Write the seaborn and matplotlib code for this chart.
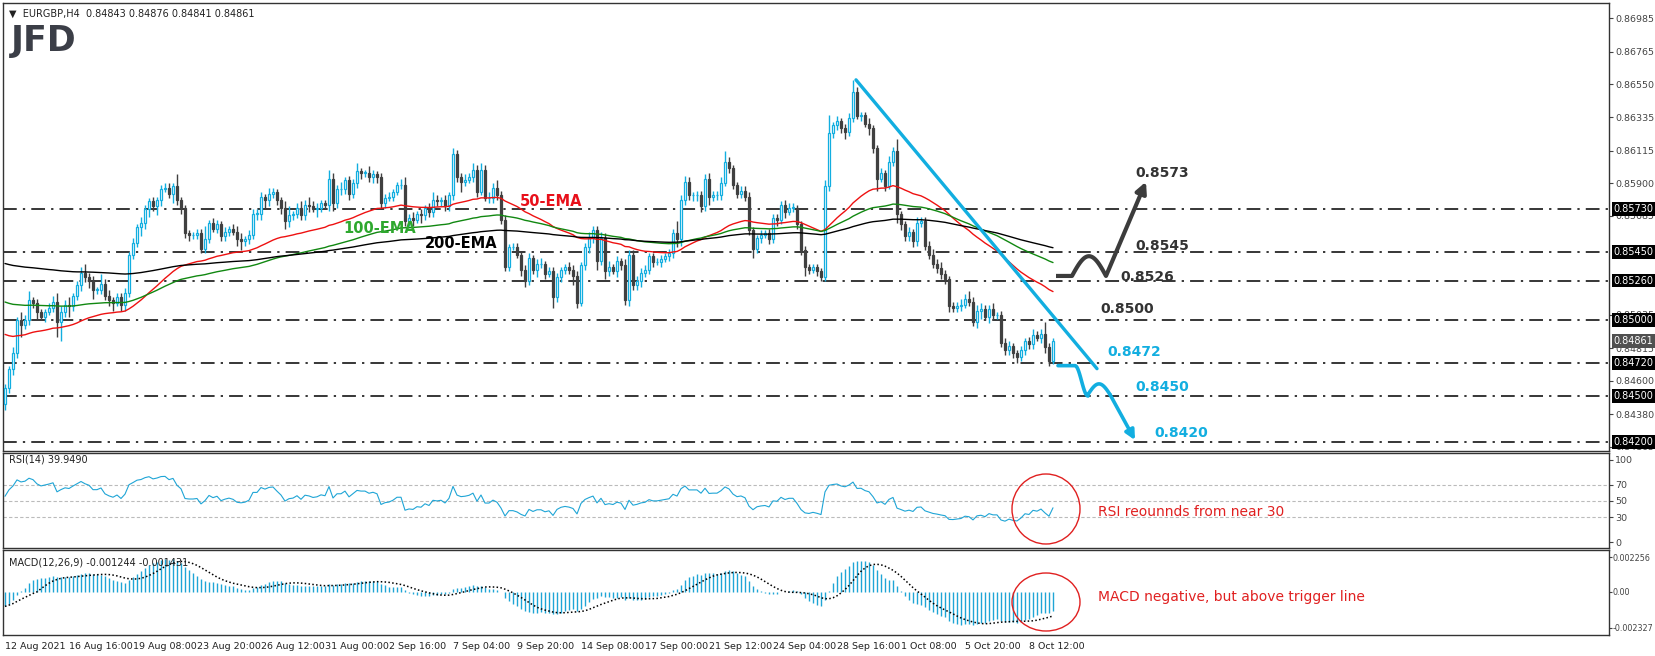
import numpy as np
import pandas as pd
import matplotlib
matplotlib.use("Agg")
import matplotlib.pyplot as plt
from matplotlib.patches import Rectangle, Ellipse
import seaborn as sns

sns.set_style("white")
plt.rcParams['font.family'] = ['DejaVu Sans']

# ---------------- data (pips, 0.0001) ----------------
first_open = 8445
closes = [
8455,8468,8478,8500,8497,8500,8513,8511,8505,8502,
8505,8508,8512,8499,8505,8510,8509,8516,8523,8531,
8528,8526,8520,8520,8524,8516,8513,8511,8515,8510,
8518,8543,8551,8561,8564,8573,8578,8575,8579,8586,
8587,8583,8588,8579,8574,8557,8556,8556,8557,8547,
8553,8564,8560,8563,8555,8558,8560,8558,8553,8552,
8553,8556,8570,8570,8581,8579,8583,8584,8579,8574,
8565,8569,8570,8574,8569,8576,8575,8573,8574,8577,
8576,8593,8577,8586,8586,8592,8583,8590,8598,8597,
8597,8594,8596,8594,8577,8580,8581,8584,8589,8589,
8565,8567,8566,8570,8569,8574,8571,8579,8578,8579,
8575,8582,8609,8594,8591,8592,8594,8599,8584,8599,
8580,8580,8587,8582,8566,8535,8548,8548,8543,8533,
8526,8541,8533,8537,8537,8530,8532,8515,8528,8533,
8535,8533,8529,8511,8536,8548,8554,8559,8539,8554,
8532,8535,8532,8539,8536,8513,8543,8523,8526,8531,
8533,8542,8538,8538,8540,8542,8544,8557,8553,8579,
8591,8582,8582,8582,8575,8593,8581,8582,8582,8590,
8604,8600,8589,8583,8585,8581,8559,8547,8554,8556,
8557,8553,8567,8566,8576,8571,8574,8574,8563,8546,
8535,8533,8535,8532,8528,8588,8623,8628,8631,8626,
8624,8633,8650,8634,8635,8629,8626,8613,8593,8597,
8588,8604,8611,8570,8563,8555,8558,8552,8564,8565,
8549,8543,8537,8534,8530,8527,8509,8508,8509,8510,
8514,8512,8499,8506,8507,8502,8507,8503,8503,8485,
8480,8483,8478,8476,8480,8486,8484,8490,8488,8491,8482,8473,8486.1]
upper_wick = [
3,2,4,2,5,3,6,2,3,2, 2,3,4,6,4,3,5,2,3,4, 6,3,3,2,6,3,4,2,3,3,
3,2,3,2,4,3,2,3,2,3, 3,3,2,8,2,2,2,2,3,3, 9,2,3,3,2,3,2,3,4,4,
2,3,3,3,3,2,4,3,2,2, 4,6,2,3,4,3,5,3,3,2, 2,6,4,3,5,2,3,3,5,2,
2,4,3,2,3,3,3,2,2,4, 5,3,4,2,3,2,3,5,3,2, 3,2,4,3,3,4,3,4,3,4,
3,4,3,5,3,3,2,3,3,2, 3,3,2,3,4,2,3,3,3,2, 2,3,3,3,2,3,4,3,3,4,
3,4,2,3,2,4,3,3,3,3, 3,2,2,3,3,2,3,3,8,3, 4,3,2,3,3,3,4,3,3,4,
7,3,2,2,3,3,3,2,2,3, 2,3,3,3,2,3,3,3,2,2, 3,2,2,2,2,4,12,2,3,2,
3,3,8,3,2,2,4,2,2,3, 2,4,3,8,2,2,3,2,4,3, 3,3,4,3,4,3,2,3,3,4,
3,5,3,4,4,3,3,4,2,3, 3,3,2,2,3,2,3,4,3,3,8,3,2]
lower_wick = [
4,3,4,3,8,3,3,3,4,2, 3,2,3,10,13,3,7,3,3,4, 3,5,6,3,3,3,4,5,2,4,
4,3,3,3,6,4,5,3,6,4, 2,3,6,3,4,3,4,3,3,3, 3,2,2,3,3,3,3,2,4,6,
3,3,3,4,4,5,4,3,3,4, 5,4,3,3,3,3,4,2,5,3, 3,4,5,3,4,3,4,3,3,4,
3,3,4,4,3,3,2,3,2,3, 3,3,4,2,5,3,3,3,3,3, 3,3,3,3,7,3,2,3,3,2,
2,3,3,3,3,3,3,2,2,4, 4,3,3,5,3,3,2,7,3,3, 3,3,6,3,2,3,4,3,6,3,
5,3,2,4,3,3,4,3,3,4, 3,3,3,2,3,2,3,3,5,4, 3,3,4,4,4,3,5,3,3,3,
2,3,3,3,3,3,3,6,3,3, 2,3,2,4,3,4,2,3,3,3, 6,3,2,3,2,2,3,3,3,3,
5,3,3,2,3,2,4,3,8,2, 3,2,3,6,4,3,3,4,3,3, 3,3,3,3,3,3,4,3,3,3,
2,3,3,4,5,2,4,3,2,3, 3,3,3,4,3,3,3,3,2,3,4,3,2]
ema_periods = [50, 100, 200]
ema_seeds = [8492, 8513, 8538]
ema_colors = ['#ee1111', '#118811', '#000000']
macd_seeds = [8456, 8466]   # EMA12, EMA26 warm-up
rsi_seed = [2.0, 2.2]       # avg gain / loss warm-up

levels = [0.8573, 0.8545, 0.8526, 0.8500, 0.8472, 0.8450, 0.8420]
axis_ticks = [0.86985, 0.86765, 0.86550, 0.86335, 0.86115, 0.85900, 0.85685,
              0.85035, 0.84815, 0.84600, 0.84380, 0.84165]
date_labels = ["12 Aug 2021", "16 Aug 16:00", "19 Aug 08:00", "23 Aug 20:00", "26 Aug 12:00",
               "31 Aug 00:00", "2 Sep 16:00", "7 Sep 04:00", "9 Sep 20:00", "14 Sep 08:00",
               "17 Sep 00:00", "21 Sep 12:00", "24 Sep 04:00", "28 Sep 16:00", "1 Oct 08:00",
               "5 Oct 20:00", "8 Oct 12:00"]
trend_pts = ([212.75, 273.0], [0.8658, 0.8468])
# ----------------------------------------------------

c = np.array(closes) / 1e4
o = np.concatenate([[first_open / 1e4], c[:-1]])
hi = np.maximum(o, c) + np.array(upper_wick) / 1e4
lo = np.minimum(o, c) - np.array(lower_wick) / 1e4
n = len(c)
idx = np.arange(n)

def ema(vals, p, seed):
    a = 2 / (p + 1); prev = seed; out = []
    for v in vals:
        prev = prev + a * (v - prev); out.append(prev)
    return np.array(out)

emas = [ema(c, p, s / 1e4) for p, s in zip(ema_periods, ema_seeds)]
d = np.diff(np.concatenate([[first_open / 1e4], c])) * 1e4
g, l = rsi_seed; rsi = []
for v in d:
    g = (g * 13 + max(v, 0)) / 14; l = (l * 13 + max(-v, 0)) / 14
    rsi.append(100 - 100 / (1 + g / l))
rsi = np.array(rsi)
macd = ema(c, 12, macd_seeds[0] / 1e4) - ema(c, 26, macd_seeds[1] / 1e4)
signal = pd.Series(macd).rolling(9, min_periods=1).mean().values

W, H = 1655, 656
fig = plt.figure(figsize=(W / 100, H / 100), dpi=100)
def axrect(x0, y0, x1, y1):
    return [x0 / W, 1 - y1 / H, (x1 - x0) / W, (y1 - y0) / H]
ax = fig.add_axes(axrect(3, 3, 1609, 451))
axr = fig.add_axes(axrect(3, 453, 1609, 548), sharex=ax)
axm = fig.add_axes(axrect(3, 550, 1609, 635), sharex=ax)
xmin, xmax = (3 - 5) / 4, (1609 - 5) / 4
for a in (ax, axr, axm):
    for s in a.spines.values():
        s.set_color('#333333'); s.set_linewidth(1)
    a.yaxis.tick_right()
    a.tick_params(axis='y', labelsize=6.8, colors='#444444', length=3, pad=1.5)
    a.tick_params(axis='x', length=0)
ax.set_xlim(xmin, xmax)
ax.set_ylim(0.841385, 0.870855)

CY = '#12aee0'; DK = '#404040'
ls = (0, (9, 4, 1.5, 4))
for lv in levels:
    ax.axhline(lv, color='black', lw=1.1, ls=ls, zorder=1)

bw = 0.7
for i in idx:
    up = c[i] >= o[i]
    col = CY if up else DK
    top, bot = max(o[i], c[i]), min(o[i], c[i])
    ax.vlines(i, lo[i], bot, color=col, lw=1, zorder=3)
    ax.vlines(i, top, hi[i], color=col, lw=1, zorder=3)
    hgt = max(top - bot, 0.000012)
    ax.add_patch(Rectangle((i - bw / 2, bot), bw, hgt, facecolor='white' if up else DK,
                           edgecolor=col, lw=0.9, zorder=4))

for e, col in zip(emas, ema_colors):
    sns.lineplot(x=idx, y=e, ax=ax, color=col, lw=1.0, zorder=5, legend=False)

ax.plot(trend_pts[0], trend_pts[1], color=CY, lw=2.4, zorder=6, solid_capstyle='round')

def px2bar(x): return (x - 5) / 4
def py2p(y): return 0.8573 - (y - 209) * 0.0000658

bx = np.linspace(266.75, 275.25, 30)
by = 0.8529 + 0.0013 * np.sin(np.pi * (bx - 266.75) / 8.5)
ax.plot(np.concatenate([[262.75], bx]), np.concatenate([[0.8529], by]), color='#3c3c3c',
        lw=3, zorder=7, solid_capstyle='butt')
ax.annotate('', xy=(285.25, 0.8591), xytext=(275.25, 0.8529),
            arrowprops=dict(arrowstyle='-|>', color='#3c3c3c', lw=3, mutation_scale=16,
                            shrinkA=0, shrinkB=0), zorder=7)
cx1 = np.linspace(267.5, 270.75, 15)
cy1 = 0.8470 - 0.0020 * (1 - np.cos(np.pi * (cx1 - 267.5) / 3.25)) / 2
cx2 = np.linspace(270.75, 276.25, 25)
cy2 = 0.8451 + 0.0007 * np.sin(np.pi * (cx2 - 270.75) / 5.5)
ax.plot(np.concatenate([[263.25], cx1, cx2]), np.concatenate([[0.8470], cy1, cy2]),
        color=CY, lw=2.6, zorder=7)
ax.annotate('', xy=(282.5, 0.8421), xytext=(276.25, 0.8451),
            arrowprops=dict(arrowstyle='-|>', color=CY, lw=2.6, mutation_scale=14,
                            shrinkA=0, shrinkB=0), zorder=7)

lab_kw = dict(fontsize=10, fontweight='bold', va='center', ha='left', zorder=8)
for txt, xpx, pr, col in [("0.8573", 1135, 0.8597, '#333333'), ("0.8545", 1135, 0.8549, '#333333'),
                          ("0.8526", 1120, 0.8528, '#333333'), ("0.8500", 1100, 0.8507, '#333333'),
                          ("0.8472", 1107, 0.8479, CY), ("0.8450", 1135, 0.8456, CY),
                          ("0.8420", 1154, 0.8426, CY)]:
    ax.text(px2bar(xpx), pr, txt, color=col, **lab_kw)

for txt, xpx, ypx, col in [("50-EMA", 520, 201, '#e8101a'), ("100-EMA", 343, 228, '#2ea82e'),
                           ("200-EMA", 425, 243, '#000000')]:
    ax.text(px2bar(xpx), py2p(ypx), txt, color=col, fontsize=10.5, fontweight='bold',
            va='center', ha='left', zorder=8)

ax.set_yticks(axis_ticks)
ax.set_yticklabels([f"{t:.5f}" for t in axis_ticks])
for lv in levels:
    ax.text(1.003, lv, f"{lv:.5f}", transform=ax.get_yaxis_transform(), fontsize=7,
            color='white', va='center', ha='left',
            bbox=dict(boxstyle='square,pad=0.2', fc='black', ec='none'), zorder=10, clip_on=False)
ax.text(1.003, c[-1], f"{c[-1]:.5f}", transform=ax.get_yaxis_transform(), fontsize=7,
        color='white', va='center', ha='left',
        bbox=dict(boxstyle='square,pad=0.2', fc='#505050', ec='none'), zorder=10, clip_on=False)

ax.text(0.004, 0.975, "\u25BC  EURGBP,H4  0.84843 0.84876 0.84841 0.84861", transform=ax.transAxes,
        fontsize=7, color='#222222', va='center', ha='left')
ax.text(0.005, 0.915, "JFD", transform=ax.transAxes, fontsize=25, fontweight='bold',
        color='#3b3e47', va='center', ha='left')
ax.tick_params(axis='x', labelbottom=False)

# RSI
axr.set_ylim(-7.2, 108.4)
for lv in (70, 50, 30):
    axr.axhline(lv, color='#bbbbbb', lw=0.8, ls=(0, (3, 2)))
sns.lineplot(x=idx, y=rsi, ax=axr, color='#1fa5d6', lw=0.8, legend=False)
axr.set_yticks([100, 70, 50, 30, 0]); axr.set_yticklabels(['100', '70', '50', '30', '0'])
axr.tick_params(axis='x', labelbottom=False)
axr.text(0.004, 0.9, "RSI(14) 39.9490", transform=axr.transAxes, fontsize=7, color='#222222')
axr.text(px2bar(1098), 37, "RSI reounnds from near 30", color='#e02020', fontsize=10, va='center')

# MACD
axm.set_ylim(-0.002779, 0.002708)
axm.vlines(idx, 0, macd, color='#1fa5d6', lw=1)
axm.plot(idx, signal, color='black', lw=1.1, ls=(0, (1, 1.5)))
axm.set_yticks([0.002256, 0.0, -0.002327]); axm.set_yticklabels(['0.002256', '0.00', '-0.002327'])
axm.tick_params(axis='y', labelsize=5.8, pad=0.5, length=2)
axm.text(0.004, 0.82, "MACD(12,26,9) -0.001244 -0.001431", transform=axm.transAxes, fontsize=7,
         color='#222222')
axm.text(px2bar(1098), -0.0003, "MACD negative, but above trigger line", color='#e02020',
         fontsize=10, va='center')
tick_bars = np.arange(len(date_labels)) * 16
axm.set_xticks(tick_bars)
axm.set_xticklabels(date_labels, fontsize=6.8, ha='left', color='#222222')
axm.tick_params(axis='x', length=3, pad=2)

for cxp, cyp, hh in [(1046, 509, 70), (1046, 602, 58)]:
    fig.patches.append(Ellipse((cxp / W, 1 - cyp / H), 68 / W, hh / H,
                               transform=fig.transFigure, fill=False, ec='#e02020', lw=1))

fig.savefig("out.png", dpi=100, facecolor='white')
